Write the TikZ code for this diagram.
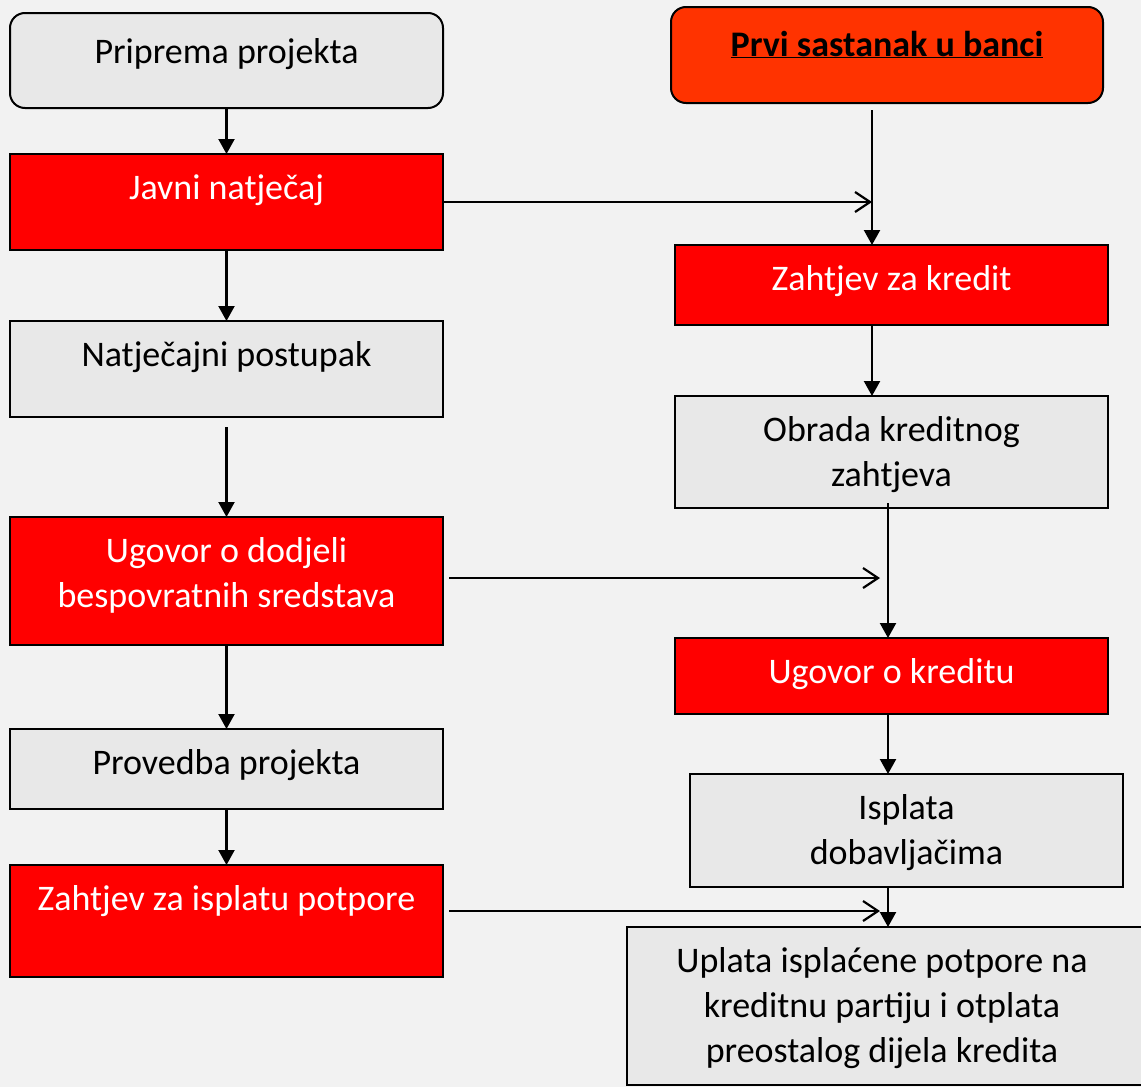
\documentclass[tikz,border=0pt]{standalone}
\usepackage{fontspec}
\setmainfont{Carlito}
\usepackage{xcolor}
\usetikzlibrary{arrows.meta,positioning}
\definecolor{pozadina}{HTML}{F2F2F2}
\definecolor{sivo}{HTML}{E8E8E8}
\definecolor{crveno}{HTML}{FF0000}
\definecolor{narancasto}{HTML}{FF3300}
\newcommand{\boxtext}[4][45pt]{\parbox[c][#3][t]{#2}{\centering\rule{0pt}{#1}#4}}
\tikzset{
  korak/.style={draw=black, line width=2pt, inner sep=0pt, outer sep=0pt, font=\fontsize{36}{45}\selectfont},
  crveni/.style={korak, fill=crveno, text=white},
  sivi/.style={korak, fill=sivo, text=black},
  strel/.style={line width=2.2pt, -{Triangle[width=16pt,length=15pt]}},
  otvor/.style={line width=2.2pt, -{Straight Barb[width=20pt,length=15pt]}}
}

\begin{document}
\begin{tikzpicture}[x=1pt, y=-1pt]
\clip (0,0) rectangle (1141,1087);
\fill[pozadina] (0,0) rectangle (1141,1087);

%projekt
\node[sivi, rounded corners=15pt] (pp) at (226.5,60.5) {\boxtext[50pt]{433pt}{95pt}{Priprema projekta}};
\node[crveni] (jn) at (226.5,202) {\boxtext{433pt}{96pt}{Javni natječaj}};
\node[sivi] (np) at (226.5,369) {\boxtext{433pt}{96pt}{Natječajni postupak}};
\node[crveni] (ud) at (226.5,581) {\boxtext{433pt}{128pt}{Ugovor o dodjeli\\bespovratnih sredstava}};
\node[sivi] (pr) at (226.5,769) {\boxtext{433pt}{80pt}{Provedba projekta}};
\node[crveni] (zi) at (226.5,921) {\boxtext{433pt}{112pt}{Zahtjev za isplatu potpore}};

%banka
\node[korak, fill=narancasto, rounded corners=15pt] (ps) at (887,55) {\boxtext[49pt]{432pt}{96pt}{\textbf{\underline{Prvi sastanak u banci}}}};
\node[crveni] (zk) at (891.5,285) {\boxtext{433pt}{80pt}{Zahtjev za kredit}};
\node[sivi] (ok) at (891.5,452) {\boxtext{433pt}{112pt}{Obrada kreditnog\\zahtjeva}};
\node[crveni] (uk) at (891.5,676) {\boxtext{433pt}{76pt}{Ugovor o kreditu}};
\node[sivi] (id) at (906.5,830.5) {\boxtext{433pt}{113pt}{Isplata\\dobavljačima}};
\node[sivi] (up) at (892,1006) {\boxtext{510pt}{158pt}{Uplata isplaćene potpore na\\kreditnu partiju i otplata\\preostalog dijela kredita}\kern20pt};

%lijevi stupac
\draw[strel] (pp.south) -- (jn.north);
\draw[strel] (jn.south) -- (np.north);
\draw[strel] ([yshift=-10pt]np.south) -- (ud.north);
\draw[strel] (ud.south) -- (pr.north);
\draw[strel] (pr.south) -- (zi.north);

%desni stupac
\coordinate (s1) at (872,202);
\coordinate (s2) at (888,578);
\coordinate (s3) at (888,911);
\draw[strel] (ps.south -| s1) ++(0,7) -- (zk.north -| s1);
\draw[strel] (zk.south -| s1) -- (ok.north -| s1);
\draw[strel] (ok.south -| s2) ++(0,-5) -- (uk.north -| s2);
\draw[strel] (uk.south -| s2) -- (id.north -| s2);
\draw[strel] (id.south -| s2) -- (up.north -| s2);

%prijelazi
\draw[otvor] (jn.east) -- (s1);
\draw[otvor] (ud.east |- s2) ++(6,0) -- ([xshift=-8pt]s2);
\draw[otvor] (zi.east |- s3) ++(6,0) -- ([xshift=-8pt]s3);
\end{tikzpicture}
\end{document}
